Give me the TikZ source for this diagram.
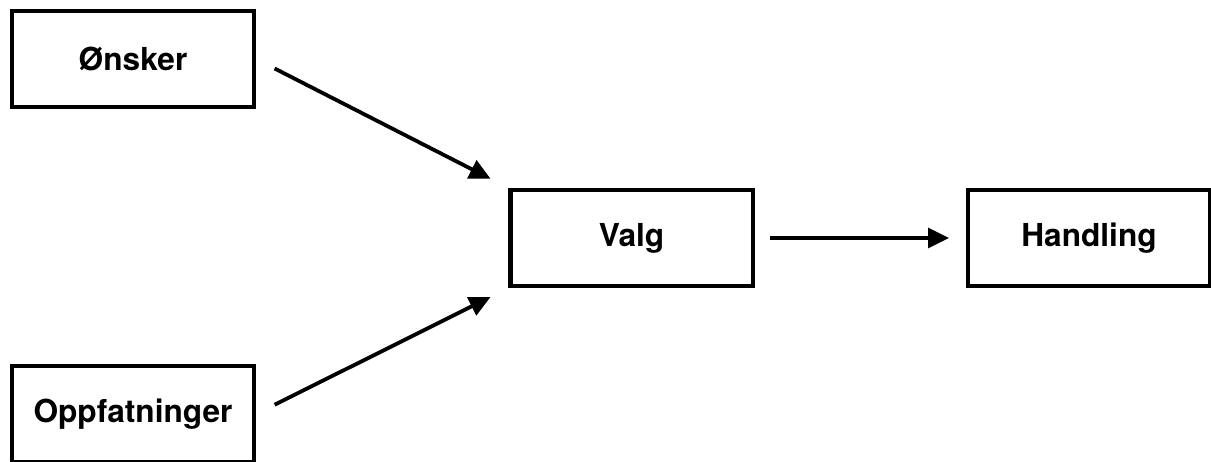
\documentclass[tikz,border=0pt]{standalone}
\usepackage{fontspec}
\setmainfont{TeX Gyre Heros}
\usetikzlibrary{arrows.meta}
\tikzset{>={Triangle[length=15pt,width=14pt]}}
\tikzset{
	stage/.style={draw,line width=2.9pt,minimum width=6.05cm,minimum height=2.4cm,font=\fontsize{22.5}{28}\selectfont\bfseries,inner sep=0pt},
	link/.style={->,line width=2.7pt}
}

\begin{document}
\begin{tikzpicture}[x=0.025cm,y=-0.025cm]
				\useasboundingbox (0,0) rectangle (1211,461);
				\clip (0,0) rectangle (1211,461);
				\node[stage] (onsker) at (133,59) {Ønsker};
				\node[stage] (oppf) at (133,414) {Oppfatninger};
				\node[stage] (valg) at (631.5,238) {Valg};
				\node[stage] (handling) at (1089,238) {Handling};
				\draw[link,shorten <=0.52cm,shorten >=0.5cm] (onsker.east)--(valg.north west);
				\draw[link,shorten <=0.52cm,shorten >=0.5cm] (oppf.east)--(valg.south west);
				\draw[link,shorten <=0.38cm,shorten >=0.42cm] (valg.east)--(handling.west);
\end{tikzpicture}
\end{document}
